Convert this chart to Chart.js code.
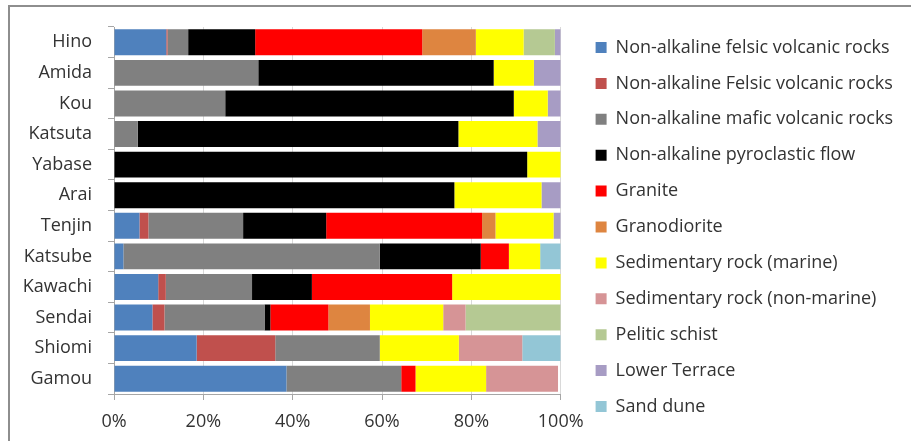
<!DOCTYPE html>
<html>
<head>
<meta charset="utf-8">
<script src="https://cdn.jsdelivr.net/npm/chart.js@4.4.1/dist/chart.umd.min.js"></script>
<style>
    html, body { margin: 0; padding: 0; background: #fff; }
    #frame {
        position: absolute; left: 8px; top: 5px; width: 1000px; height: 500px;
        border-left: 2px solid #8e8e8e; border-top: 2px solid #8e8e8e;
    }
    #wrap { position: absolute; left: 0; top: 0; width: 911px; height: 441px; }
</style>
</head>
<body>
<div id="frame"></div>
<div id="wrap"><canvas id="rockChart"></canvas></div>
<script>
const sites = ['Hino', 'Amida', 'Kou', 'Katsuta', 'Yabase', 'Arai', 'Tenjin', 'Katsube', 'Kawachi', 'Sendai', 'Shiomi', 'Gamou'];

// share of each geology class per site (%), same order as sites
const felsicVolcanic  = [11.7, 0, 0, 0, 0, 0, 5.7, 2.1, 9.9, 8.6, 18.5, 38.6];
const felsicVolcanic2 = [0.3, 0, 0, 0, 0, 0, 2.0, 0, 1.7, 2.7, 17.6, 0];
const maficVolcanic   = [4.6, 32.3, 24.9, 5.3, 0, 0, 21.2, 57.4, 19.3, 22.4, 23.4, 25.7];
const pyroclastic     = [15.0, 52.7, 64.6, 71.8, 92.5, 76.2, 18.6, 22.6, 13.4, 1.3, 0, 0];
const granite         = [37.4, 0, 0, 0, 0, 0, 34.9, 6.3, 31.4, 13.0, 0, 3.2];
const granodiorite    = [12.0, 0, 0, 0, 0, 0, 3.0, 0, 0, 9.3, 0, 0];
const sedMarine       = [10.7, 9.0, 7.6, 17.7, 7.5, 19.5, 13.0, 7.0, 24.3, 16.4, 17.7, 15.8];
const sedNonMarine    = [0, 0, 0, 0, 0, 0, 0, 0, 0, 5.0, 14.2, 16.1];
const peliticSchist   = [7.0, 0, 0, 0, 0, 0, 0, 0, 0, 21.3, 0, 0];
const lowerTerrace    = [1.3, 6.0, 2.9, 5.2, 0, 4.3, 1.6, 0, 0, 0, 0, 0];
const sandDune        = [0, 0, 0, 0, 0, 0, 0, 4.6, 0, 0, 8.6, 0];

const xTicks = [0, 20, 40, 60, 80, 100];

const FONT = { family: '"Open Sans", sans-serif', size: 18 };
const TEXT_COLOR = '#333333';

const series = [
    { label: 'Non-alkaline felsic volcanic rocks', data: felsicVolcanic,  color: '#4f81bd' },
    { label: 'Non-alkaline Felsic volcanic rocks', data: felsicVolcanic2, color: '#c0504d' },
    { label: 'Non-alkaline mafic volcanic rocks',  data: maficVolcanic,   color: '#808080' },
    { label: 'Non-alkaline pyroclastic flow',      data: pyroclastic,     color: '#000000' },
    { label: 'Granite',                            data: granite,         color: '#ff0000' },
    { label: 'Granodiorite',                       data: granodiorite,    color: '#de8540' },
    { label: 'Sedimentary rock (marine)',          data: sedMarine,       color: '#ffff00' },
    { label: 'Sedimentary rock (non-marine)',      data: sedNonMarine,    color: '#d69496' },
    { label: 'Pelitic schist',                     data: peliticSchist,   color: '#b5c993' },
    { label: 'Lower Terrace',                      data: lowerTerrace,    color: '#a79cc4' },
    { label: 'Sand dune',                          data: sandDune,        color: '#93c6d6' }
];

// push the legend a bit right of the plot and lift it slightly
const legendNudge = {
    id: 'legendNudge',
    afterLayout(chart) {
        const lg = chart.legend;
        lg.left += 17;
        lg.right += 17;
        lg.top -= 7;
        lg.bottom -= 7;
    }
};

const ctx = document.getElementById('rockChart').getContext('2d');
new Chart(ctx, {
    type: 'bar',
    data: {
        labels: sites,
        datasets: series.map(s => ({
            label: s.label,
            data: s.data,
            backgroundColor: s.color,
            borderColor: s.color,
            borderWidth: 0,
            categoryPercentage: 0.85,
            barPercentage: 1
        }))
    },
    options: {
        indexAxis: 'y',
        responsive: true,
        maintainAspectRatio: false,
        animation: false,
        layout: { padding: { top: 27, bottom: 0, left: 0, right: 25 } },
        scales: {
            x: {
                stacked: true,
                min: 0,
                max: 100,
                afterBuildTicks: scale => { scale.ticks = xTicks.map(v => ({ value: v })); },
                ticks: {
                    callback: v => v + '%',
                    color: TEXT_COLOR,
                    font: FONT,
                    padding: 11,
                    maxRotation: 0
                },
                grid: { color: '#d9d9d9', tickLength: 6, tickColor: '#a6a6a6' },
                border: { color: '#a6a6a6' },
                afterFit: scale => { scale.height = 47; }
            },
            y: {
                stacked: true,
                ticks: { color: TEXT_COLOR, font: FONT, padding: 16 },
                grid: { drawOnChartArea: false, tickLength: 6, tickColor: '#a6a6a6' },
                border: { color: '#a6a6a6' },
                afterFit: scale => { scale.width = 114; }
            }
        },
        plugins: {
            legend: {
                position: 'right',
                maxWidth: 400,
                labels: {
                    color: TEXT_COLOR,
                    font: FONT,
                    boxWidth: 11,
                    boxHeight: 11,
                    padding: 17.9
                }
            },
            tooltip: { enabled: false }
        }
    },
    plugins: [legendNudge]
});
</script>
</body>
</html>
